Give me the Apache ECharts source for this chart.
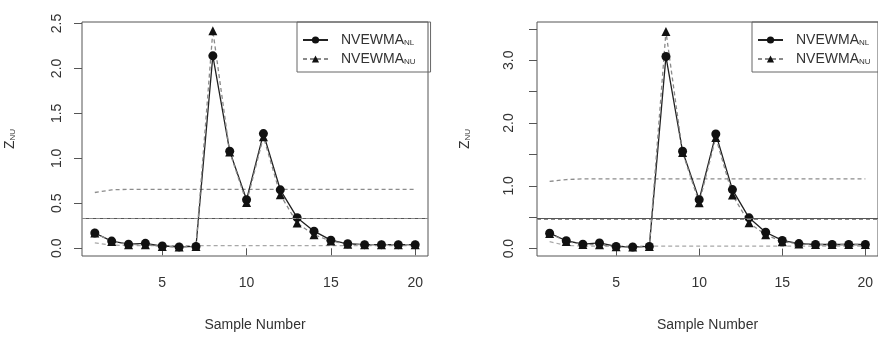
<!DOCTYPE html>
<html>
<head>
<meta charset="utf-8">
<script src="https://cdn.jsdelivr.net/npm/echarts@6/dist/echarts.min.js"></script>
<style>
    html, body { margin: 0; padding: 0; background: #fff; }
    #chart { width: 878px; height: 337px; }
</style>
</head>
<body>
<div id="chart"></div>
<script>
// sample numbers (x axis)
const sampleNo = [1, 2, 3, 4, 5, 6, 7, 8, 9, 10, 11, 12, 13, 14, 15, 16, 17, 18, 19, 20];

// left panel
const nlLeft = [0.17, 0.08, 0.045, 0.055, 0.025, 0.015, 0.02, 2.14, 1.08, 0.54, 1.275, 0.65, 0.34, 0.19, 0.09, 0.05, 0.04, 0.04, 0.04, 0.04];
const nuLeft = [0.17, 0.075, 0.04, 0.04, 0.02, 0.015, 0.02, 2.42, 1.07, 0.51, 1.24, 0.595, 0.28, 0.15, 0.08, 0.045, 0.04, 0.04, 0.04, 0.04];
const uclLeft = [0.62, 0.65, 0.655, 0.655, 0.655, 0.655, 0.655, 0.655, 0.655, 0.655, 0.655, 0.655, 0.655, 0.655, 0.655, 0.655, 0.655, 0.655, 0.655, 0.655];
const lclLeft = [0.06, 0.035, 0.03, 0.03, 0.03, 0.03, 0.03, 0.03, 0.03, 0.03, 0.03, 0.03, 0.03, 0.03, 0.03, 0.03, 0.03, 0.03, 0.03, 0.03];
const centerLeft = 0.33;
const yTicksLeft = [0, 0.5, 1, 1.5, 2, 2.5];
const yLabelsLeft = [0, 0.5, 1, 1.5, 2, 2.5];

// right panel
const nlRight = [0.245, 0.125, 0.07, 0.09, 0.035, 0.025, 0.035, 3.06, 1.55, 0.78, 1.825, 0.94, 0.49, 0.26, 0.13, 0.08, 0.065, 0.065, 0.065, 0.065];
const nuRight = [0.24, 0.115, 0.065, 0.06, 0.03, 0.025, 0.035, 3.46, 1.53, 0.73, 1.77, 0.855, 0.41, 0.22, 0.11, 0.075, 0.065, 0.065, 0.065, 0.065];
const uclRight = [1.07, 1.1, 1.11, 1.11, 1.11, 1.11, 1.11, 1.11, 1.11, 1.11, 1.11, 1.11, 1.11, 1.11, 1.11, 1.11, 1.11, 1.11, 1.11, 1.11];
const lclRight = [0.11, 0.05, 0.04, 0.04, 0.04, 0.04, 0.04, 0.04, 0.04, 0.04, 0.04, 0.04, 0.04, 0.04, 0.04, 0.04, 0.04, 0.04, 0.04, 0.04];
const centerRight = 0.477;
const yTicksRight = [0, 0.5, 1, 1.5, 2, 2.5, 3, 3.5];
const yLabelsRight = [0, 1, 2, 3];

const xTicks = [5, 10, 15, 20];

const FONT = "'Liberation Sans', Arial, sans-serif";
const TEXT = '#333';
const pairs = arr => sampleNo.map((x, i) => [x, arr[i]]);

function makeXAxis(gridIndex) {
    return {
        gridIndex,
        type: 'value',
        min: 0.24,
        max: 20.76,
        name: 'Sample Number',
        nameLocation: 'middle',
        nameGap: 62,
        nameTextStyle: { fontFamily: FONT, fontSize: 14, color: TEXT },
        axisLine: { show: false },
        axisTick: { show: true, length: 7, customValues: xTicks, lineStyle: { color: '#555' } },
        axisLabel: { customValues: xTicks, margin: 20, fontFamily: FONT, fontSize: 14, color: TEXT },
        splitLine: { show: false },
    };
}

function makeYAxis(gridIndex, min, max, ticks, labels, margin) {
    return {
        gridIndex,
        type: 'value',
        min,
        max,
        name: 'Z{sub|NU}',
        nameLocation: 'middle',
        nameRotate: 90,
        nameGap: 65,
        nameTextStyle: {
            fontFamily: FONT, fontSize: 14, color: TEXT,
            rich: { sub: { fontFamily: FONT, fontSize: 8, color: TEXT, padding: [6, 0, 0, 0] } },
        },
        axisLine: { show: false },
        axisTick: { show: true, length: 8, customValues: ticks, lineStyle: { color: '#555' } },
        axisLabel: {
            customValues: labels, rotate: 90, margin,
            fontFamily: FONT, fontSize: 14, color: TEXT,
            formatter: v => v.toFixed(1),
        },
        splitLine: { show: false },
    };
}

function panelSeries(idx, nl, nu, ucl, lcl, center) {
    return [
        {
            name: 'UCL', type: 'line', xAxisIndex: idx, yAxisIndex: idx,
            data: pairs(ucl), symbol: 'none', silent: true,
            lineStyle: { color: '#8c8c8c', width: 1.3, type: [4, 3] },
        },
        {
            name: 'LCL', type: 'line', xAxisIndex: idx, yAxisIndex: idx,
            data: pairs(lcl), symbol: 'none', silent: true,
            lineStyle: { color: '#a8a8a8', width: 1.2, type: [4, 3] },
        },
        {
            name: 'CL', type: 'line', xAxisIndex: idx, yAxisIndex: idx,
            data: [], silent: true,
            markLine: {
                symbol: 'none', silent: true, label: { show: false },
                data: [
                    { yAxis: center, lineStyle: { color: '#555', width: 1.2, type: 'solid' } },
                    { yAxis: center * 0.985, lineStyle: { color: '#888', width: 1, type: [4, 3] } },
                ],
            },
        },
        {
            name: 'NL', type: 'line', xAxisIndex: idx, yAxisIndex: idx,
            data: pairs(nl), symbol: 'circle', symbolSize: 9,
            itemStyle: { color: '#111' },
            lineStyle: { color: '#222', width: 1.3 },
        },
        {
            name: 'NU', type: 'line', xAxisIndex: idx, yAxisIndex: idx,
            data: pairs(nu), symbol: 'triangle', symbolSize: 9,
            itemStyle: { color: '#111' },
            lineStyle: { color: '#8a8a8a', width: 1.3, type: [4, 3] },
        },
    ];
}

function makeLegend(left) {
    return {
        left,
        top: 22,
        orient: 'vertical',
        data: ['NL', 'NU'],
        selectedMode: false,
        borderColor: '#666',
        borderWidth: 1,
        borderRadius: 0,
        padding: [11, 15, 6, 5],
        itemWidth: 25,
        itemHeight: 9,
        itemGap: 5,
        formatter: n => 'NVEWMA{sub|' + n + '}',
        textStyle: {
            fontFamily: FONT, fontSize: 14, color: TEXT, padding: [0, 0, 0, 8],
            rich: { sub: { fontFamily: FONT, fontSize: 8, color: TEXT, padding: [6, 0, 0, 0] } },
        },
    };
}

const chart = echarts.init(document.getElementById('chart'), null, { renderer: 'canvas' });
chart.setOption({
    backgroundColor: '#fff',
    animation: false,
    grid: [
        { left: 82, top: 22, width: 346, height: 240, show: true, borderColor: '#555', borderWidth: 1, backgroundColor: 'transparent' },
        { left: 537, top: 22, width: 346, height: 240, show: true, borderColor: '#555', borderWidth: 1, backgroundColor: 'transparent' },
    ],
    xAxis: [makeXAxis(0), makeXAxis(1)],
    yAxis: [
        makeYAxis(0, -0.086, 2.516, yTicksLeft, yLabelsLeft, 18),
        makeYAxis(1, -0.118, 3.61, yTicksRight, yLabelsRight, 21),
    ],
    legend: [makeLegend(297), makeLegend(752)],
    series: [
        ...panelSeries(0, nlLeft, nuLeft, uclLeft, lclLeft, centerLeft),
        ...panelSeries(1, nlRight, nuRight, uclRight, lclRight, centerRight),
    ],
});
</script>
</body>
</html>
